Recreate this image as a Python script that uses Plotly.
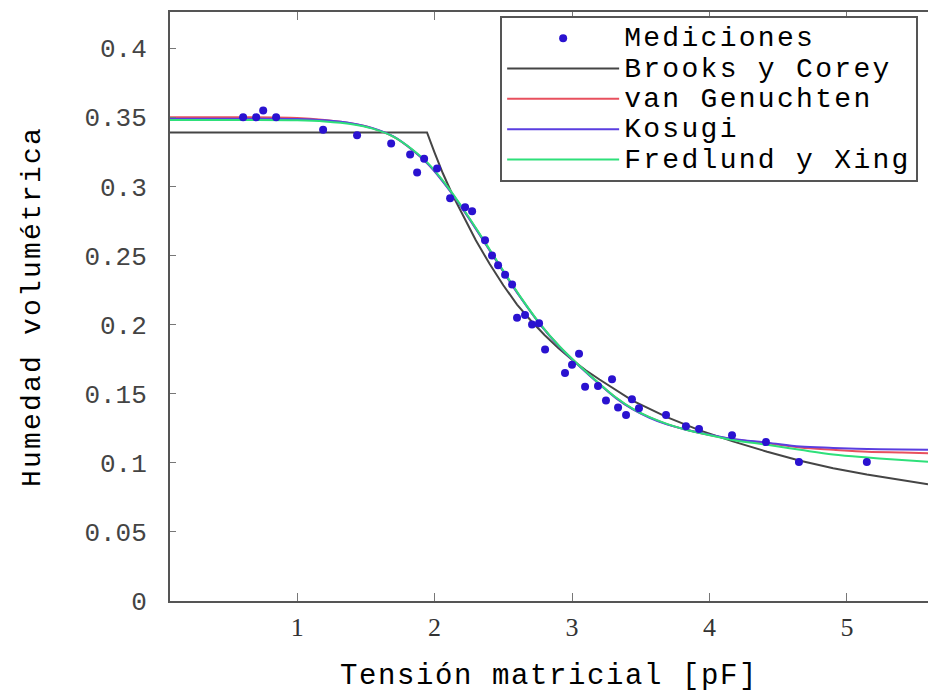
import plotly.graph_objects as go

# Measurements
meas_x = [0.607, 0.702, 0.753, 0.847, 1.189, 1.436, 1.684, 1.822, 1.873, 1.924, 2.018,
          2.113, 2.222, 2.273, 2.367, 2.418, 2.462, 2.513, 2.564, 2.600, 2.658, 2.709,
          2.760, 2.804, 2.949, 3.000, 3.051, 3.095, 3.189, 3.247, 3.291, 3.335, 3.393,
          3.436, 3.487, 3.684, 3.829, 3.924, 4.164, 4.411, 4.651, 5.145]
meas_y = [0.350, 0.350, 0.355, 0.350, 0.341, 0.337, 0.331, 0.323, 0.310, 0.320, 0.313,
          0.2915, 0.285, 0.282, 0.261, 0.250, 0.243, 0.236, 0.229, 0.205, 0.207, 0.200,
          0.201, 0.182, 0.165, 0.171, 0.179, 0.155, 0.1555, 0.145, 0.1605, 0.140, 0.1345,
          0.146, 0.1395, 0.1345, 0.1265, 0.1245, 0.120, 0.115, 0.1005, 0.1005]

# Brooks y Corey
bc_x = [0.075, 1.945, 2.00, 2.06, 2.13, 2.21, 2.30, 2.40, 2.50, 2.60, 2.70, 2.80, 2.90,
        3.00, 3.10, 3.20, 3.44, 3.69, 3.93, 4.17, 4.42, 4.66, 4.90, 5.145, 5.385, 5.59]
bc_y = [0.339, 0.339, 0.3245, 0.3095, 0.2940, 0.2780, 0.2610, 0.2440, 0.2285, 0.2145,
        0.2030, 0.1925, 0.1830, 0.1745, 0.1670, 0.1603, 0.1450, 0.1330, 0.1235, 0.1155,
        0.1080, 0.1015, 0.0960, 0.0915, 0.0877, 0.0845]

# Shared abscissa for the other fitted models
fit_x = [0.075, 0.6, 1.0, 1.2, 1.4, 1.55, 1.70, 1.85, 1.95, 2.05, 2.13, 2.21, 2.31, 2.40,
         2.50, 2.62, 2.77, 2.91, 3.06, 3.20, 3.32, 3.44, 3.56, 3.69, 3.81, 3.93, 4.17,
         4.42, 4.66, 4.9, 5.15, 5.4, 5.59]
vg_y = [0.350, 0.350, 0.3495, 0.348, 0.3455, 0.3420, 0.3360, 0.3255, 0.3165, 0.3050,
        0.2945, 0.2830, 0.2680, 0.2540, 0.2385, 0.2205, 0.2000, 0.1840, 0.1695, 0.1570,
        0.1470, 0.1390, 0.1330, 0.1280, 0.1245, 0.1215, 0.1170, 0.1142, 0.1110, 0.1094,
        0.1080, 0.1075, 0.1070]
ks_y = [0.349, 0.349, 0.3488, 0.3478, 0.3456, 0.3422, 0.3362, 0.3255, 0.3163, 0.3048,
        0.2943, 0.2828, 0.2678, 0.2538, 0.2383, 0.2203, 0.1998, 0.1838, 0.1693, 0.1568,
        0.1468, 0.1388, 0.1328, 0.1278, 0.1245, 0.1217, 0.1172, 0.1146, 0.1118, 0.1108,
        0.1100, 0.1096, 0.1094]
fx_y = [0.348, 0.348, 0.3478, 0.3470, 0.3450, 0.3418, 0.3360, 0.3258, 0.3170, 0.3055,
        0.2950, 0.2835, 0.2685, 0.2545, 0.2390, 0.2208, 0.2002, 0.1842, 0.1697, 0.1572,
        0.1472, 0.1392, 0.1332, 0.1282, 0.1245, 0.1215, 0.1165, 0.1130, 0.1094, 0.1060,
        0.1038, 0.1020, 0.1007]

x_ticks = [1, 2, 3, 4, 5]
y_ticks = [0, 0.05, 0.1, 0.15, 0.2, 0.25, 0.3, 0.35, 0.4]
y_tick_text = ["0", "0.05", "0.1", "0.15", "0.2", "0.25", "0.3", "0.35", "0.4"]

def lbl(s):
    return '<span style="font-size:28px;letter-spacing:2.3px">' + s + '</span>'

fig = go.Figure()
fig.add_trace(go.Scatter(x=bc_x, y=bc_y, mode="lines", name=lbl("Brooks y Corey"),
                         line=dict(color="#454545", width=2), legendrank=2))
fig.add_trace(go.Scatter(x=fit_x, y=vg_y, mode="lines", name=lbl("van Genuchten"),
                         line=dict(color="#e8505e", width=2, shape="spline"), legendrank=3))
fig.add_trace(go.Scatter(x=fit_x, y=ks_y, mode="lines", name=lbl("Kosugi"),
                         line=dict(color="#5a3ee0", width=2, shape="spline"), legendrank=4))
fig.add_trace(go.Scatter(x=fit_x, y=fx_y, mode="lines", name=lbl("Fredlund y Xing"),
                         line=dict(color="#2ee07a", width=2, shape="spline"), legendrank=5))
fig.add_trace(go.Scatter(x=meas_x, y=meas_y, mode="markers", name=lbl("Mediciones"),
                         marker=dict(color="#2a12d0", size=8), legendrank=1))

fig.update_layout(
    width=928, height=693,
    margin=dict(l=170, r=0, t=12, b=92),
    paper_bgcolor="white", plot_bgcolor="white",
    showlegend=True,
    legend=dict(x=0.987, y=0.993, xanchor="right", yanchor="top",
                bgcolor="white", bordercolor="#555555", borderwidth=2,
                font=dict(family="Liberation Mono", size=21, color="black"),
                itemwidth=112, traceorder="normal"),
    xaxis=dict(range=[0.075, 5.59], tickvals=x_ticks, ticktext=[str(v) for v in x_ticks],
               ticks="inside", ticklen=8, tickcolor="#777777", tickwidth=1,
               showline=True, linecolor="#555555", linewidth=2, mirror="ticks",
               showgrid=False, zeroline=False, automargin=False,
               tickfont=dict(family="Liberation Serif", size=26, color="#333333"),
               ticklabelstandoff=2,
               title=dict(text='<span style="letter-spacing:1.6px">Tensión matricial [pF]</span>',
                          font=dict(family="Liberation Mono", size=29, color="black"),
                          standoff=36)),
    yaxis=dict(range=[0, 0.4262], tickvals=y_ticks, ticktext=y_tick_text,
               ticks="inside", ticklen=6, tickcolor="#777777", tickwidth=1,
               showline=True, linecolor="#555555", linewidth=2, mirror=False,
               showgrid=False, zeroline=False, automargin=False,
               tickfont=dict(family="Liberation Mono", size=26, color="#444444"),
               ticklabelstandoff=16,
               title=dict(text='<span style="letter-spacing:2.2px">Humedad volumétrica</span>',
                          font=dict(family="Liberation Mono", size=28, color="black"),
                          standoff=36)),
)

fig.write_html("out.html")
